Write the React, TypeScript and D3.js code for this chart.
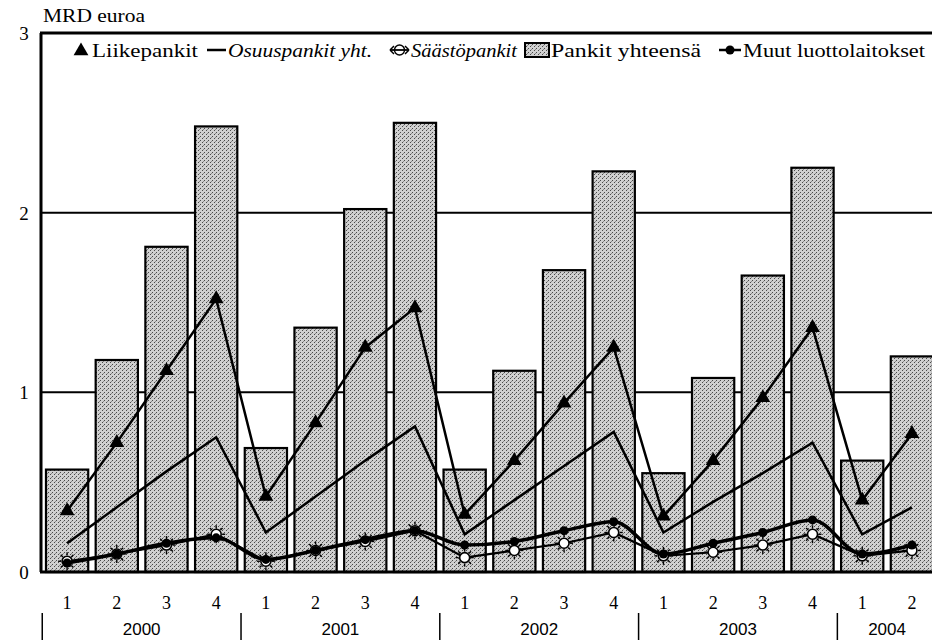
import React from "react";
import * as d3 from "d3";

const quarters = ["1","2","3","4","1","2","3","4","1","2","3","4","1","2","3","4","1","2"];
const years = ["2000","2001","2002","2003","2004"];
const yearStart = [0, 4, 8, 12, 16];
const yearLen = [4, 4, 4, 4, 2];
const yTicks = [0, 1, 2, 3];

const pankitYhteensa = [0.57,1.18,1.81,2.48,0.69,1.36,2.02,2.50,0.57,1.12,1.68,2.23,0.55,1.08,1.65,2.25,0.62,1.20];
const liikepankit = [0.34,0.72,1.12,1.52,0.42,0.83,1.25,1.47,0.32,0.62,0.94,1.25,0.31,0.62,0.97,1.36,0.40,0.77];
const osuuspankit = [0.16,0.36,0.56,0.75,0.22,0.42,0.62,0.81,0.21,0.40,0.59,0.78,0.22,0.39,0.55,0.72,0.21,0.36];
const saastopankit = [0.06,0.10,0.15,0.21,0.06,0.12,0.17,0.23,0.08,0.12,0.16,0.22,0.09,0.11,0.15,0.21,0.09,0.12];
const muut = [0.05,0.10,0.16,0.19,0.07,0.12,0.18,0.23,0.15,0.17,0.23,0.28,0.10,0.16,0.22,0.29,0.10,0.15];

const legendLabels = ["Liikepankit", "Osuuspankit yht.", "Säästöpankit", "Pankit yhteensä", "Muut luottolaitokset"];

const W = 932, H = 640;
const left = 41, top = 33, bottom = 572;

const css = `
.ch text { font-family: "Liberation Serif", "Times New Roman", Tinos, serif; }
.ch text.yr { font-family: "Liberation Sans", Arial, sans-serif; }
`;

export default function App() {
  const idx = quarters.map((_, i) => i);
  const x = d3.scaleBand<number>().domain(idx).range([42, 937]).paddingInner(0.15).paddingOuter(0.08);
  const y = d3.scaleLinear().domain([0, 3]).range([bottom, top]);
  const cx = (i: number) => (x(i) as number) + x.bandwidth() / 2;
  const step = x.step();
  const line = d3.line<number>().x((_, i) => cx(i)).y(d => y(d));
  const smooth = d3.line<number>().x((_, i) => cx(i)).y(d => y(d)).curve(d3.curveMonotoneX);
  const tri = d3.symbol(d3.symbolTriangle, 95)();

  const sun = (px: number, py: number, key: string) => {
    const rays = d3.range(8).map(k => {
      const a = (k * Math.PI) / 4;
      return <line key={k} x1={px + Math.cos(a) * 6} y1={py + Math.sin(a) * 6} x2={px + Math.cos(a) * 9} y2={py + Math.sin(a) * 9} stroke="#000" strokeWidth={1.4} />;
    });
    return (
      <g key={key}>
        {rays}
        <circle cx={px} cy={py} r={5} fill="#fff" stroke="#000" strokeWidth={1.6} />
      </g>
    );
  };

  const boundaries = yearStart.map(s => cx(s) - step / 2);

  return (
    <svg className="ch" width={W} height={H} style={{ position: "absolute", left: 0, top: 0, background: "#fff" }}>
      <style>{css}</style>
      <defs>
        <pattern id="halftone" width="4" height="4" patternUnits="userSpaceOnUse">
          <rect width="4" height="4" fill="#d0d0d0" />
          <rect x="0" y="0" width="1" height="1" fill="#4a4a4a" />
          <rect x="2" y="2" width="1" height="1" fill="#4a4a4a" />
          <rect x="3" y="1" width="1" height="1" fill="#8a8a8a" />
        </pattern>
      </defs>
      <text x={43} y={22} fontSize={19} textLength={102} lengthAdjust="spacingAndGlyphs">MRD euroa</text>
      {yTicks.map(t => (
        <text key={t} x={24} y={y(t) + 7} textAnchor="middle" fontSize={19}>{t}</text>
      ))}
      {[1, 2].map(t => (
        <line key={t} x1={left} x2={W} y1={y(t)} y2={y(t)} stroke="#000" strokeWidth={2} />
      ))}
      {pankitYhteensa.map((v, i) => (
        <rect key={i} x={x(i)} y={y(v)} width={x.bandwidth()} height={y(0) - y(v)} fill="url(#halftone)" stroke="#000" strokeWidth={2.2} />
      ))}
      <line x1={left} x2={left} y1={top} y2={bottom} stroke="#000" strokeWidth={3} />
      <line x1={left - 1} x2={W} y1={top} y2={top} stroke="#000" strokeWidth={3} />
      <line x1={left - 1} x2={W} y1={bottom} y2={bottom} stroke="#000" strokeWidth={3} />

      <path d={line(osuuspankit) || ""} fill="none" stroke="#000" strokeWidth={2.5} />
      <path d={line(liikepankit) || ""} fill="none" stroke="#000" strokeWidth={2.5} />
      {liikepankit.map((v, i) => (
        <path key={i} d={tri || ""} transform={`translate(${cx(i)},${y(v)})`} fill="#000" />
      ))}
      <path d={line(saastopankit) || ""} fill="none" stroke="#000" strokeWidth={2.2} />
      {saastopankit.map((v, i) => sun(cx(i), y(v), "s" + i))}
      <path d={smooth(muut) || ""} fill="none" stroke="#000" strokeWidth={3.5} />
      {muut.map((v, i) => (
        <circle key={i} cx={cx(i)} cy={y(v)} r={4.5} fill="#000" />
      ))}

      {/* legend */}
      <path d={tri || ""} transform="translate(81,51)" fill="#000" />
      <text x={92} y={57} fontSize={19} textLength={106} lengthAdjust="spacingAndGlyphs">{legendLabels[0]}</text>
      <line x1={207} x2={226} y1={50} y2={50} stroke="#000" strokeWidth={2.5} />
      <text x={228} y={57} fontSize={19} fontStyle="italic" textLength={144} lengthAdjust="spacingAndGlyphs">{legendLabels[1]}</text>
      <line x1={390} x2={409} y1={50} y2={50} stroke="#000" strokeWidth={1.8} />
      <path d="M390,50 l4,-4 M390,50 l4,4 M409,50 l-4,-4 M409,50 l-4,4" stroke="#000" strokeWidth={1.5} fill="none" />
      <circle cx={399.5} cy={50} r={5} fill="none" stroke="#000" strokeWidth={1.4} />
      <text x={411} y={57} fontSize={19} fontStyle="italic" textLength={106} lengthAdjust="spacingAndGlyphs">{legendLabels[2]}</text>
      <rect x={525} y={43} width={24} height={14} fill="url(#halftone)" stroke="#000" strokeWidth={2} />
      <text x={551} y={57} fontSize={19} textLength={150} lengthAdjust="spacingAndGlyphs">{legendLabels[3]}</text>
      <line x1={719} x2={741} y1={50} y2={50} stroke="#000" strokeWidth={2.5} />
      <circle cx={730} cy={50} r={4.5} fill="#000" />
      <text x={743} y={57} fontSize={19} textLength={182} lengthAdjust="spacingAndGlyphs">{legendLabels[4]}</text>

      {quarters.map((q, i) => (
        <text key={i} x={cx(i)} y={609} textAnchor="middle" fontSize={18}>{q}</text>
      ))}
      {boundaries.map((b, i) => (
        <line key={i} x1={b} x2={b} y1={613} y2={640} stroke="#000" strokeWidth={1.5} />
      ))}
      {years.map((yr, i) => {
        const c = (cx(yearStart[i]) + cx(yearStart[i] + yearLen[i] - 1)) / 2;
        return (
          <text key={yr} className="yr" x={c} y={635} textAnchor="middle" fontSize={17}>{yr}</text>
        );
      })}
    </svg>
  );
}
